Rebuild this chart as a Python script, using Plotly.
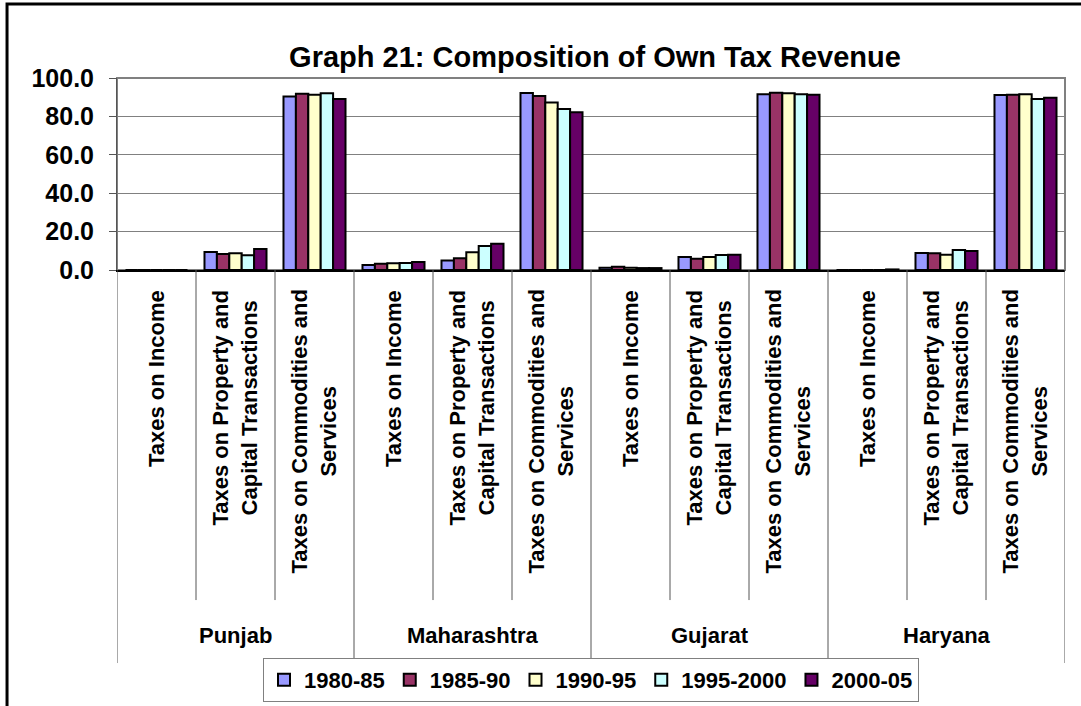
import plotly.graph_objects as go

# categories and series
states = ["Punjab", "Maharashtra", "Gujarat", "Haryana"]
tax_heads = [
    "Taxes on Income",
    "Taxes on Property and<br>Capital Transactions",
    "Taxes on Commodities and<br>Services",
]
periods = ["1980-85", "1985-90", "1990-95", "1995-2000", "2000-05"]
colors = ["#9999FF", "#993366", "#FFFFCC", "#CCFFFF", "#660066"]

# values per period, order: state x tax head
v_1980_85 = [0.0, 9.4, 90.4, 2.6, 4.9, 92.2, 1.2, 6.8, 91.6, 0.0, 8.9, 91.1]
v_1985_90 = [0.0, 8.3, 91.8, 3.3, 6.1, 90.6, 1.7, 5.9, 92.3, 0.0, 8.7, 91.3]
v_1990_95 = [0.0, 8.7, 91.3, 3.5, 9.2, 87.3, 1.2, 6.8, 92.0, 0.0, 8.0, 91.6]
v_1995_2000 = [0.0, 7.7, 92.0, 3.7, 12.5, 83.8, 1.0, 7.8, 91.5, 0.0, 10.4, 89.0]
v_2000_05 = [0.0, 11.0, 89.0, 4.2, 13.7, 82.1, 1.0, 8.0, 91.3, 0.3, 9.9, 89.7]
series = [v_1980_85, v_1985_90, v_1990_95, v_1995_2000, v_2000_05]

FONT = "Arial, Liberation Sans, sans-serif"
W, H = 1081, 706

n_cat = len(states) * len(tax_heads)
xpos = list(range(n_cat))

fig = go.Figure()
for name, vals, col in zip(periods, series, colors):
    fig.add_trace(
        go.Bar(
            x=xpos,
            y=vals,
            name=name,
            marker=dict(color=col, line=dict(color="black", width=2)),
        )
    )

# category labels (rotated) under each slot
for i in range(n_cat):
    fig.add_annotation(
        x=i, xref="x", y=-0.094, yref="paper",
        text=tax_heads[i % 3], textangle=-90, showarrow=False,
        xanchor="center", yanchor="top", align="center",
        font=dict(family=FONT, size=22, color="black", weight="bold"),
    )

# state labels
for j, st in enumerate(states):
    fig.add_annotation(
        x=j * 3 + 1, xref="x", y=-1.906, yref="paper",
        text=st, showarrow=False, xanchor="center", yanchor="middle",
        font=dict(family=FONT, size=22, color="black", weight="bold"),
    )

# divider lines in the label area
for k in range(n_cat + 1):
    bottom = -2.047 if k % 3 == 0 else -1.719
    fig.add_shape(
        type="line", xref="x", yref="paper",
        x0=k - 0.5, x1=k - 0.5, y0=0, y1=bottom,
        line=dict(color="#555555", width=1),
    )

# plot area border (gray top/right)
fig.add_shape(
    type="rect", xref="paper", yref="paper", x0=0, x1=1, y0=0, y1=1,
    line=dict(color="#808080", width=2), layer="below",
)
# outer chart border (only left and top visible)
fig.add_shape(
    type="rect", xref="paper", yref="paper",
    x0=-0.116, x1=1.2, y0=-3.0, y1=1.385,
    line=dict(color="black", width=3),
)

fig.update_layout(
    width=W,
    height=H,
    margin=dict(l=117, r=16, t=78, b=436),
    paper_bgcolor="white",
    plot_bgcolor="white",
    barmode="group",
    bargap=0.215,
    bargroupgap=0,
    title=dict(
        text="Graph 21: Composition of Own Tax Revenue",
        x=595 / W, xanchor="center", y=1 - 57 / H, yanchor="middle",
        font=dict(family=FONT, size=29, color="black", weight="bold"),
    ),
    font=dict(family=FONT, color="black"),
    showlegend=True,
    legend=dict(
        orientation="h",
        xref="container", x=263 / W, xanchor="left",
        yref="container", y=1 - 658 / H, yanchor="top",
        bordercolor="#808080", borderwidth=1,
        font=dict(family=FONT, size=22, color="black", weight="bold"),
        itemwidth=30,
        tracegroupgap=0,
    ),
)

fig.update_xaxes(
    range=[-0.5, n_cat - 0.5],
    showticklabels=False,
    ticks="",
    showgrid=False,
    zeroline=False,
    showline=True,
    linecolor="black",
    linewidth=2,
)
fig.update_yaxes(
    range=[0, 100],
    dtick=20,
    tickformat=".1f",
    ticks="outside",
    ticklen=7,
    tickcolor="#555555",
    ticklabelstandoff=10,
    showgrid=True,
    gridcolor="#808080",
    gridwidth=1,
    zeroline=False,
    showline=True,
    linecolor="#555555",
    linewidth=1,
    tickfont=dict(family=FONT, size=25, color="black", weight="bold"),
)

fig.write_html(
    "out.html",
    config={"displayModeBar": False},
    post_script="document.body.style.margin='0';",
)
